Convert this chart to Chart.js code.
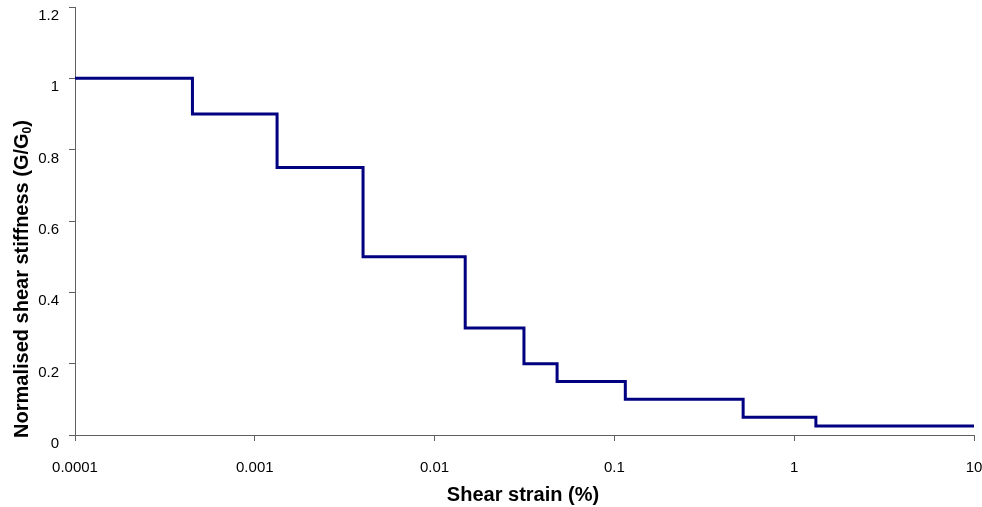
<!DOCTYPE html>
<html>
<head>
<meta charset="utf-8">
<script src="https://cdn.jsdelivr.net/npm/chart.js@4/dist/chart.umd.min.js"></script>
<style>
  html, body { margin: 0; padding: 0; background: #fff; }
  #wrap { width: 982px; height: 507px; position: relative; }
</style>
</head>
<body>
<div id="wrap"><canvas id="myChart"></canvas></div>
<script>
// Step positions (shear strain %, log axis) and stiffness levels
const strainValues = [0.0001, 0.00045, 0.00133, 0.004, 0.0148, 0.0314, 0.048, 0.115, 0.52, 1.32, 10];
const stiffnessValues = [1, 0.9, 0.75, 0.5, 0.3, 0.2, 0.15, 0.1, 0.05, 0.025, 0.025];

// Tick labels
const xTickValues = [0.0001, 0.001, 0.01, 0.1, 1, 10];
const xTickLabels = ['0.0001', '0.001', '0.01', '0.1', '1', '10'];
const yTickValues = [0, 0.2, 0.4, 0.6, 0.8, 1, 1.2];
const yTickLabels = ['0', '0.2', '0.4', '0.6', '0.8', '1', '1.2'];

const xTitle = 'Shear strain (%)';
const yTitleMain = 'Normalised shear stiffness (G/G';
const yTitleSub = '0';
const yTitleEnd = ')';

const FONT = "'Liberation Sans', Arial, sans-serif";
const AXIS_COLOR = '#606060';

// draw axis titles by hand, the y one needs a subscript
const axisTitles = {
    id: 'axisTitles',
    afterDraw: (chart) => {
        const {ctx} = chart;
        ctx.save();
        ctx.fillStyle = '#000';
        ctx.font = `bold 20px ${FONT}`;
        ctx.textAlign = 'center';
        ctx.textBaseline = 'middle';
        ctx.fillText(xTitle, 523, 495);

        // y title, rotated
        ctx.translate(22, 279);
        ctx.rotate(-Math.PI / 2);
        ctx.textAlign = 'left';
        const mainW = ctx.measureText(yTitleMain).width;
        ctx.font = `bold 12px ${FONT}`;
        const subW = ctx.measureText(yTitleSub).width;
        ctx.font = `bold 20px ${FONT}`;
        const endW = ctx.measureText(yTitleEnd).width;
        let x = -(mainW + subW + endW) / 2;
        ctx.fillText(yTitleMain, x, 0);
        x += mainW;
        ctx.font = `bold 12px ${FONT}`;
        ctx.fillText(yTitleSub, x, 6);
        x += subW;
        ctx.font = `bold 20px ${FONT}`;
        ctx.fillText(yTitleEnd, x, 0);
        ctx.restore();
    }
};

const points = strainValues.map((v, i) => ({x: v, y: stiffnessValues[i]}));

const ctx = document.getElementById('myChart').getContext('2d');
const myChart = new Chart(ctx, {
    type: 'line',
    data: {
        datasets: [{
            data: points,
            borderColor: '#000080',
            borderWidth: 3,
            stepped: 'before',
            pointRadius: 0,
            fill: false
        }]
    },
    options: {
        responsive: true,
        maintainAspectRatio: false,
        animation: false,
        layout: {
            padding: {top: 7, right: 8, left: 0, bottom: 0}
        },
        plugins: {
            legend: {display: false},
            tooltip: {enabled: false}
        },
        scales: {
            x: {
                type: 'logarithmic',
                min: xTickValues[0],
                max: xTickValues[xTickValues.length - 1],
                afterBuildTicks: (scale) => {
                    scale.ticks = xTickValues.map(v => ({value: v}));
                },
                afterFit: (scale) => {
                    scale.height = 72;
                    scale.paddingLeft = 0;
                    scale.paddingRight = 0;
                },
                ticks: {
                    autoSkip: false,
                    maxRotation: 0,
                    padding: 18,
                    color: '#000',
                    font: {family: FONT, size: 15},
                    callback: (value) => {
                        const i = xTickValues.findIndex(t => Math.abs(t - value) / t < 1e-6);
                        return i >= 0 ? xTickLabels[i] : '';
                    }
                },
                grid: {
                    drawOnChartArea: false,
                    drawTicks: true,
                    tickLength: 6,
                    color: AXIS_COLOR
                },
                border: {color: AXIS_COLOR, width: 1}
            },
            y: {
                min: 0,
                max: 1.2,
                afterBuildTicks: (scale) => {
                    scale.ticks = yTickValues.map(v => ({value: v}));
                },
                afterFit: (scale) => {
                    scale.width = 75;
                    scale.paddingTop = 0;
                    scale.paddingBottom = 0;
                },
                ticks: {
                    autoSkip: false,
                    padding: 10,
                    labelOffset: 9,
                    color: '#000',
                    font: {family: FONT, size: 15},
                    callback: (value) => {
                        const i = yTickValues.findIndex(t => Math.abs(t - value) < 1e-6);
                        return i >= 0 ? yTickLabels[i] : '';
                    }
                },
                grid: {
                    drawOnChartArea: false,
                    drawTicks: true,
                    tickLength: 6,
                    color: AXIS_COLOR
                },
                border: {color: AXIS_COLOR, width: 1}
            }
        }
    },
    plugins: [axisTitles]
});
</script>
</body>
</html>
